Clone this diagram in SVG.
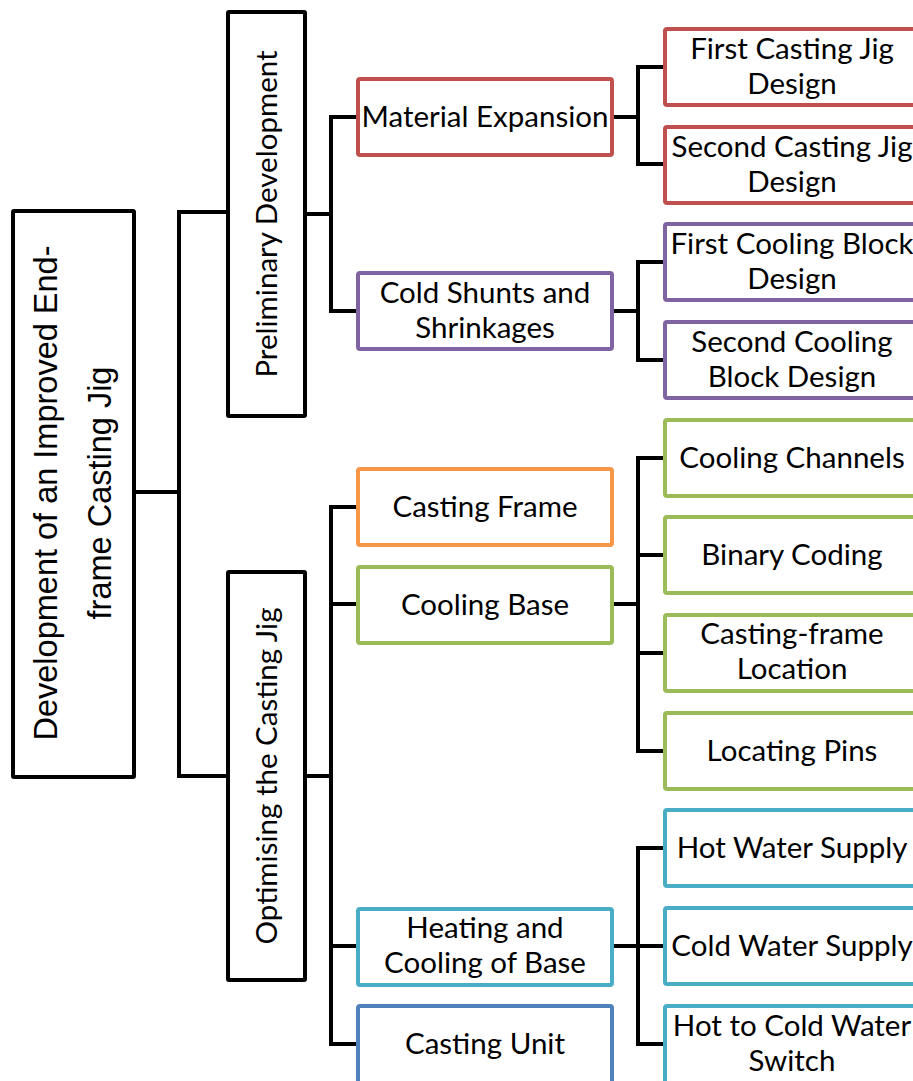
<svg xmlns="http://www.w3.org/2000/svg" width="913" height="1081" viewBox="0 0 913 1081">
<style>
.bg{fill:#fff}
.conn path{fill:none;stroke:#000;stroke-width:4;stroke-linejoin:miter;stroke-linecap:square}
.box{fill:#fff;stroke-width:4}
.blk{stroke:#000}
.red{stroke:#C0504D}
.pur{stroke:#8064A2}
.org{stroke:#F79646}
.grn{stroke:#9BBB59}
.cyn{stroke:#4BACC6}
.blu{stroke:#4F81BD}
.lbl{font-family:Lato,"Open Sans","Noto Sans",sans-serif;font-size:29.5px;fill:#000;text-anchor:middle}
.root{font-family:"Liberation Sans",Arial,sans-serif;font-size:32.5px;fill:#000;text-anchor:middle}
</style>
<rect class="bg" x="0" y="0" width="913" height="1081"/>
<g id="connectors" class="conn">
<path d="M134,492 H179"/>
<path d="M228,212 H179 V776 H228"/>
<path d="M306,214 H331"/>
<path d="M358,117 H331 V311 H358"/>
<path d="M306,776 H331"/>
<path d="M358,507 H331 V1044 H358"/>
<path d="M331,604 H358"/>
<path d="M331,946 H358"/>
<path d="M612,117 H638"/>
<path d="M665,67 H638 V164 H665"/>
<path d="M612,311 H638"/>
<path d="M665,262 H638 V360 H665"/>
<path d="M612,604 H638"/>
<path d="M665,458 H638 V751 H665"/>
<path d="M638,555 H665"/>
<path d="M638,653 H665"/>
<path d="M612,946 H638"/>
<path d="M665,848 H638 V1044 H665"/>
<path d="M638,946 H665"/>
</g>
<g id="root">
<rect class="box blk" x="13" y="211" width="121" height="566" rx="1"/>
<text class="root" transform="translate(57,493) rotate(-90)">Development of an Improved End-</text>
<text class="root" transform="translate(111,493) rotate(-90)">frame Casting Jig</text>
</g>
<g id="preliminary">
<rect class="box blk" x="228" y="12" width="77" height="404" rx="1"/>
<text class="lbl" transform="translate(277,214) rotate(-90)">Preliminary Development</text>
</g>
<g id="optimising">
<rect class="box blk" x="228" y="572" width="77" height="408" rx="1"/>
<text class="lbl" transform="translate(277,776) rotate(-90)">Optimising the Casting Jig</text>
</g>
<g id="material-expansion">
<rect class="box red" x="358" y="79" width="254" height="76" rx="2"/>
<text class="lbl" x="485" y="127">Material Expansion</text>
</g>
<g id="cold-shunts">
<rect class="box pur" x="358" y="273" width="254" height="76" rx="2"/>
<text class="lbl" x="485" y="303">Cold Shunts and</text>
<text class="lbl" x="485" y="338">Shrinkages</text>
</g>
<g id="casting-frame">
<rect class="box org" x="358" y="469" width="254" height="76" rx="2"/>
<text class="lbl" x="485" y="517">Casting Frame</text>
</g>
<g id="cooling-base">
<rect class="box grn" x="358" y="567" width="254" height="76" rx="2"/>
<text class="lbl" x="485" y="615">Cooling Base</text>
</g>
<g id="heating-cooling">
<rect class="box cyn" x="358" y="909" width="254" height="76" rx="2"/>
<text class="lbl" x="485" y="938">Heating and</text>
<text class="lbl" x="485" y="973">Cooling of Base</text>
</g>
<g id="casting-unit">
<rect class="box blu" x="358" y="1006" width="254" height="100" rx="2"/>
<text class="lbl" x="485" y="1054">Casting Unit</text>
</g>
<g id="first-casting-jig">
<rect class="box red" x="665" y="29" width="254" height="76" rx="2"/>
<text class="lbl" x="792" y="59">First Casting Jig</text>
<text class="lbl" x="792" y="94">Design</text>
</g>
<g id="second-casting-jig">
<rect class="box red" x="665" y="127" width="254" height="76" rx="2"/>
<text class="lbl" x="792" y="157">Second Casting Jig</text>
<text class="lbl" x="792" y="192">Design</text>
</g>
<g id="first-cooling-block">
<rect class="box pur" x="665" y="224" width="254" height="76" rx="2"/>
<text class="lbl" x="792" y="254">First Cooling Block</text>
<text class="lbl" x="792" y="289">Design</text>
</g>
<g id="second-cooling-block">
<rect class="box pur" x="665" y="322" width="254" height="76" rx="2"/>
<text class="lbl" x="792" y="352">Second Cooling</text>
<text class="lbl" x="792" y="387">Block Design</text>
</g>
<g id="cooling-channels">
<rect class="box grn" x="665" y="420" width="254" height="76" rx="2"/>
<text class="lbl" x="792" y="468">Cooling Channels</text>
</g>
<g id="binary-coding">
<rect class="box grn" x="665" y="517" width="254" height="76" rx="2"/>
<text class="lbl" x="792" y="565">Binary Coding</text>
</g>
<g id="casting-frame-location">
<rect class="box grn" x="665" y="615" width="254" height="76" rx="2"/>
<text class="lbl" x="792" y="644">Casting-frame</text>
<text class="lbl" x="792" y="679">Location</text>
</g>
<g id="locating-pins">
<rect class="box grn" x="665" y="713" width="254" height="76" rx="2"/>
<text class="lbl" x="792" y="761">Locating Pins</text>
</g>
<g id="hot-water-supply">
<rect class="box cyn" x="665" y="810" width="254" height="76" rx="2"/>
<text class="lbl" x="792" y="858">Hot Water Supply</text>
</g>
<g id="cold-water-supply">
<rect class="box cyn" x="665" y="908" width="254" height="76" rx="2"/>
<text class="lbl" x="792" y="956">Cold Water Supply</text>
</g>
<g id="hot-to-cold-switch">
<rect class="box cyn" x="665" y="1006" width="254" height="100" rx="2"/>
<text class="lbl" x="792" y="1036">Hot to Cold Water</text>
<text class="lbl" x="792" y="1071">Switch</text>
</g>
</svg>
